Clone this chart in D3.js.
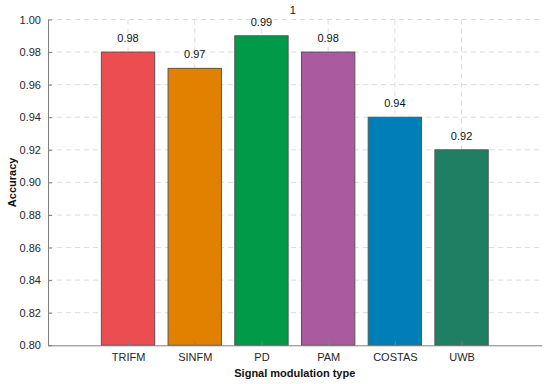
<!DOCTYPE html>
<html><head><meta charset="utf-8">
<script src="https://cdn.jsdelivr.net/npm/d3@7/dist/d3.min.js"></script>
<style>body{margin:0;background:#fff}svg{display:block}</style>
</head><body>
<svg id="c" width="550" height="384"></svg>
<script>
const categories = ["TRIFM","SINFM","PD","PAM","COSTAS","UWB"];
const accuracy = [0.98,0.97,0.99,0.98,0.94,0.92];
const colors = ["#EC4D50","#E28000","#009A49","#AA5A9E","#007EB8","#1F7F62"];
const yTicks = [0.80,0.82,0.84,0.86,0.88,0.90,0.92,0.94,0.96,0.98,1.00];
const extraLabel = {text:"1", pos:2.47, value:1.0058};

(function(){
const svg = d3.select("#c");
const mLeft=48, mRight=541.6, mTop=19.5, mBottom=345.3;
const x = d3.scaleLinear().domain([-1.2, categories.length - 1 + 1.2]).range([mLeft, mRight]);
const y = d3.scaleLinear().domain([0.8, 1.0]).range([mBottom, mTop]);
const bw = (x(1)-x(0))*0.8;
const font = "Liberation Sans, Arial, sans-serif";

// grid
const g = svg.append("g");
g.selectAll("line.hg").data(yTicks.slice(1)).join("line")
  .attr("x1", mLeft).attr("x2", mRight).attr("y1", d=>y(d)).attr("y2", d=>y(d))
  .attr("stroke","#dcdcdc").attr("stroke-width",1).attr("stroke-dasharray","5,4");
g.selectAll("line.vg").data(categories).join("line")
  .attr("x1",(d,i)=>x(i)).attr("x2",(d,i)=>x(i)).attr("y1",mTop).attr("y2",mBottom)
  .attr("stroke","#dcdcdc").attr("stroke-width",1).attr("stroke-dasharray","5,4");

// bars
svg.selectAll("rect.bar").data(accuracy).join("rect")
  .attr("x",(d,i)=>x(i)-bw/2).attr("width",bw)
  .attr("y",d=>y(d)).attr("height",d=>mBottom-y(d))
  .attr("fill",(d,i)=>colors[i]).attr("stroke","#555").attr("stroke-width",1);

// value labels
svg.selectAll("text.val").data(accuracy).join("text")
  .attr("x",(d,i)=>x(i)).attr("y",d=>y(d)-10)
  .attr("text-anchor","middle").attr("font-family",font).attr("font-size",11).attr("fill","#111")
  .text(d=>d3.format(".2f")(d));
svg.append("text").attr("x",x(extraLabel.pos)).attr("y",y(extraLabel.value)+4)
  .attr("text-anchor","middle").attr("font-family",font).attr("font-size",11).attr("fill","#111")
  .text(extraLabel.text);

// axes
const yAxis = d3.axisLeft(y).tickValues(yTicks).tickFormat(d3.format(".2f")).tickSizeInner(-4).tickSizeOuter(0).tickPadding(6);
const ya = svg.append("g").attr("transform",`translate(${mLeft},0)`).call(yAxis);
const xAxis = d3.axisBottom(x).tickValues(d3.range(categories.length)).tickFormat(i=>categories[i]).tickSizeInner(-4).tickSizeOuter(0).tickPadding(8);
const xa = svg.append("g").attr("transform",`translate(0,${mBottom})`).call(xAxis);
[ya,xa].forEach(a=>{
  a.select(".domain").attr("stroke","#808080");
  a.selectAll(".tick line").attr("stroke","#808080");
  a.selectAll("text").attr("font-family",font).attr("font-size",11).attr("fill","#262626");
});
ya.selectAll(".tick text").attr("dx",-1);

svg.append("text").attr("x",(mLeft+mRight)/2).attr("y",376.5)
  .attr("text-anchor","middle").attr("font-family",font).attr("font-size",11).attr("font-weight","bold").attr("fill","#111")
  .text("Signal modulation type");
svg.append("text").attr("transform",`translate(16,${(mTop+mBottom)/2}) rotate(-90)`)
  .attr("text-anchor","middle").attr("font-family",font).attr("font-size",11).attr("font-weight","bold").attr("fill","#111")
  .text("Accuracy");
})();
</script>
</body></html>
